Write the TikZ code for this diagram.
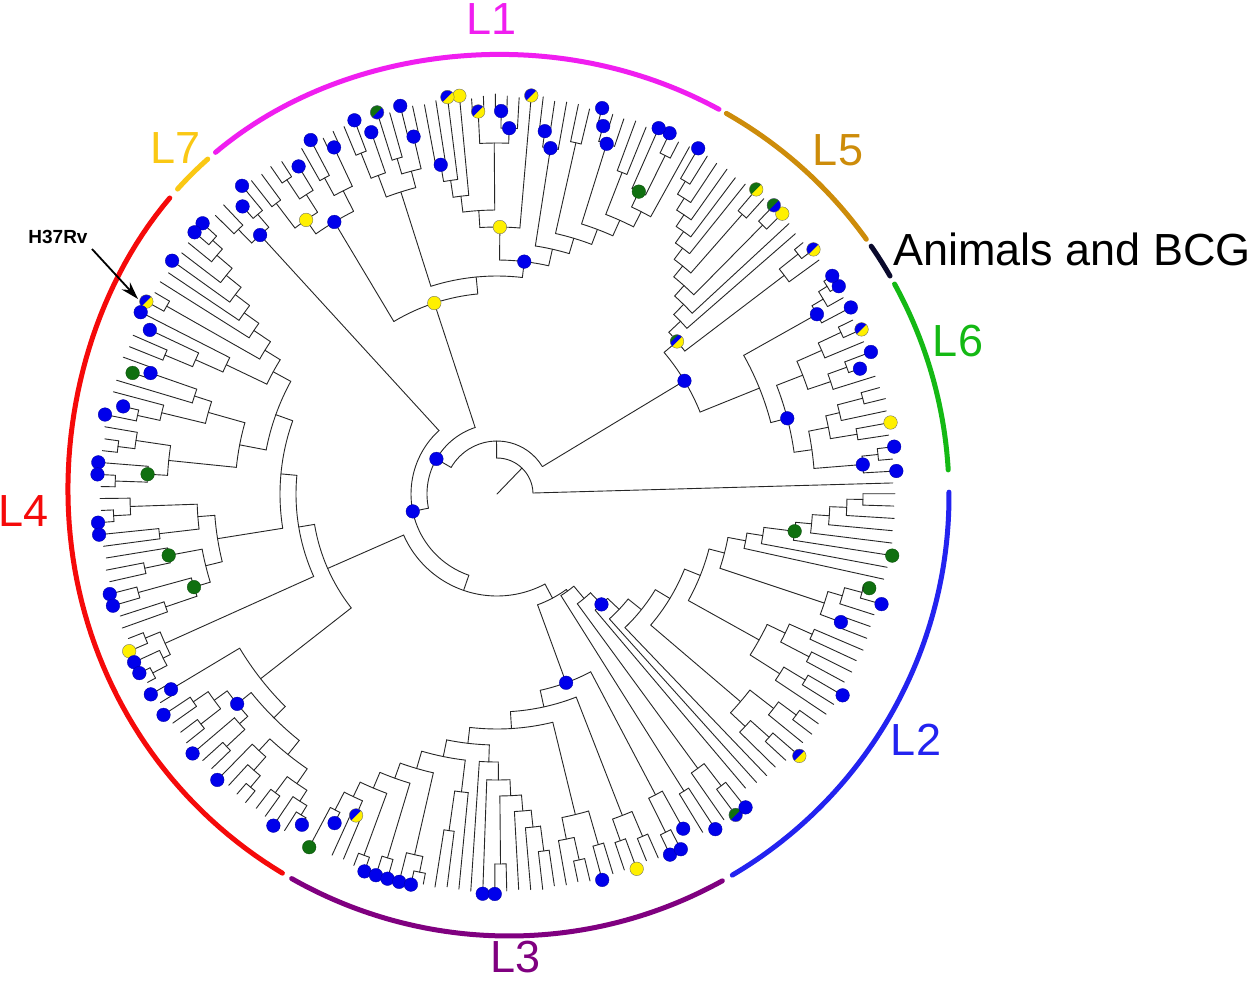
\documentclass[tikz,border=0pt]{standalone}
\usepackage{fontspec}
\setmainfont{Liberation Sans}
\usetikzlibrary{arrows.meta}

\definecolor{dotblue}{RGB}{0,0,235}
\definecolor{dotgreen}{RGB}{16,112,16}
\definecolor{dotyellow}{RGB}{255,240,0}
\definecolor{cL1}{RGB}{240,30,240}
\definecolor{cL5}{RGB}{205,140,10}
\definecolor{cAn}{RGB}{10,10,45}
\definecolor{cL6}{RGB}{20,185,20}
\definecolor{cL2}{RGB}{35,35,240}
\definecolor{cL3}{RGB}{128,0,128}
\definecolor{cL4}{RGB}{245,10,10}
\definecolor{cL7}{RGB}{250,200,20}

\tikzset{
  br/.style={line width=0.9pt, draw=black!85, line cap=round, line join=round},
  dotline/.style={draw=black!60, line width=0.35pt},
  outarc/.style={line width=5pt, line cap=round},
  biglab/.style={font=\fontsize{45}{54}\selectfont, inner sep=0pt},
  harrow/.style={-{Stealth[length=18pt,width=11pt]}, line width=1.8pt},
}

\newcommand\dR{6.8}
\newcommand\curang{0}
\newcommand\angstep{1.75}
\newcommand\pr{0}
\newcommand\retang{0}
\newcommand\setang[2]{\xdef\curang{#1}\xdef\angstep{#2}}
\newcommand\rec{\ifx\fst\relax\let\fst\retang\fi\let\lst\retang}
\newcommand\dotat[3]{\csname dotX#1\endcsname{#2}{#3}}
\newcommand\twodot[4]{%
  \begin{scope}[shift={(#3:#4)}]
    \fill[#2] (0,0) circle[radius=\dR];
    \fill[#1] (45:\dR) arc[start angle=45,end angle=225,radius=\dR] -- cycle;
    \draw[dotline] (0,0) circle[radius=\dR];
  \end{scope}}
\newcommand\dotXb[2]{\filldraw[fill=dotblue,draw=dotblue!70!black,line width=0.35pt] (#1:#2) circle[radius=\dR];}
\newcommand\dotXg[2]{\filldraw[fill=dotgreen,draw=dotgreen!70!black,line width=0.35pt] (#1:#2) circle[radius=\dR];}
\newcommand\dotXy[2]{\filldraw[fill=dotyellow,dotline] (#1:#2) circle[radius=\dR];}
\newcommand\dotXby[2]{\twodot{dotblue}{dotyellow}{#1}{#2}}
\newcommand\dotXgb[2]{\twodot{dotgreen}{dotblue}{#1}{#2}}
\newcommand\dotXgy[2]{\twodot{dotgreen}{dotyellow}{#1}{#2}}
\newcommand\dotXgby[2]{%
  \begin{scope}[shift={(#1:#2)}]
    \fill[dotyellow] (0,0) circle[radius=\dR];
    \fill[dotblue] (45:\dR) arc[start angle=45,end angle=225,radius=\dR] -- cycle;
    \fill[dotgreen] (80:\dR) arc[start angle=80,end angle=190,radius=\dR] -- cycle;
    \draw[dotline] (0,0) circle[radius=\dR];
  \end{scope}}
\newcommand\Lf[2][]{%
  \def\tmpr{#2}\ifx\tmpr\empty\def\tmpr{400}\fi
  \draw[br] (\curang:\pr) -- (\curang:\tmpr);
  \ifx\relax#1\relax\else\dotat{#1}{\curang}{\tmpr}\fi
  \global\let\retang\curang
  \pgfmathsetmacro\nxt{\curang+\angstep}\global\let\curang\nxt
  \rec}
\newcommand\Nd[3][]{%
  \begingroup
    \let\ppr\pr\def\pr{#2}\let\fst\relax\let\lst\relax
    #3%
    \pgfmathsetmacro\na{(\fst+\lst)/2}%
    \draw[br] (\na:\ppr) -- (\na:#2);
    \draw[br] (\fst:#2) arc[start angle=\fst,end angle=\lst,radius=#2];
    \ifx\relax#1\relax\else\dotat{#1}{\na}{#2}\fi
    \global\let\retang\na
  \endgroup
  \rec}
% clade arc: slightly wider towards the upper left, as in the figure
\newcommand\cladearc[3]{%
  \draw[outarc,#1] plot[domain=#2:#3, samples=70, variable=\t]
    ({509+(440+12*exp(-((\t-133)/30)^2))*cos(\t)},
     {-496+(440+12*exp(-((\t-133)/30)^2))*sin(\t)});}

\begin{document}
\begin{tikzpicture}[x=1pt,y=1pt]
\fill[white] (0,0) rectangle (1250,-980);
\useasboundingbox (0,0) rectangle (1250,-980);

\begin{scope}[shift={(497,-494)}]
\Nd{36}{%
  \setang{1.6}{1}\Lf{396}%
  \Nd{53}{%
    \Nd[b]{219}{%
      \setang{3.3}{1.75}%
      \Nd{283}{%
        \Nd[b]{300}{%
          \Nd{318}{%
            \Nd[b]{367}{\Lf[b]{}\Nd{383}{\Lf{397}\Lf[b]{}}}%
            \Nd{338}{\Nd{365}{\Lf{396}\Lf[y]{}}\Nd{352}{\Lf{398}\Nd{378}{\Lf{}\Lf{397}}}}%
          }%
          \Nd{328}{%
            \Nd{352}{\Lf{396}\Nd{372}{\Lf[b]{384}\Lf[b]{}}}%
            \Nd{355}{\Lf{397}\Nd{380}{\Lf[by]{}\Lf{396}}}%
          }%
        }%
        \Nd[b]{367}{\Lf[b]{}\Nd{380}{\Lf{398}\Nd{390}{\Lf[b]{}\Lf[b]{}}}}%
      }%
      \setang{36}{1.7}%
      \Nd[gby]{236}{%
        \Nd{361}{\Lf{398}\Nd{385}{\Lf[by]{}\Lf{396}}}%
        \Nd{252}{\Lf{396}%
          \Nd{266}{\Lf{398}%
            \Nd{280}{\Nd{378}{\Lf[y]{}\Lf[gb]{}}%
              \Nd{294}{\Nd{372}{\Lf{398}\Lf[gy]{}}%
                \Nd{308}{\Lf{397}%
                  \Nd{322}{\Lf{396}%
                    \Nd{336}{\Lf{398}%
                      \Nd{350}{\Lf{397}%
                        \Nd{365}{\Lf{398}\Lf[b]{}}%
                      }%
                    }%
                  }%
                }%
              }%
            }%
          }%
        }%
      }%
    }%
    \Nd[b]{70}{%
      \setang{61}{1.72}%
      \Nd[y]{201}{%
        \Nd{218}{%
          \Nd[b]{234}{%
            \Nd{251}{%
              \Nd{267}{%
                \Nd{283}{%
                  \Nd{300}{%
                    \Nd{317}{\Lf{397}\Nd[g]{334}{\Nd{378}{\Lf{396}\Lf[b]{}}\Lf[b]{}}}%
                    \Nd{345}{\Lf{396}\Lf{398}}%
                  }%
                  \Nd[b]{367}{\Lf{396}\Nd[b]{383}{\Lf{397}\Lf[b]{}}}%
                }%
                \Nd{360}{\Lf{396}\Lf{398}}%
              }%
              \Nd[b]{350}{\Lf{398}\Nd[b]{366}{\Lf{397}\Lf{}}}%
            }%
            \Nd[y]{267}{%
              \Lf[by]{}%
              \Nd{284}{%
                \Nd{351}{\Nd[b]{366}{\Lf{397}\Nd[b]{383}{\Lf{398}\Lf{}}}\Nd[by]{383}{\Lf{398}\Lf{396}}}%
                \Nd{300}{\Lf[y]{}\Nd{317}{\Lf[by]{}\Nd[b]{334}{\Lf{398}\Lf{396}}}}%
              }%
            }%
          }%
          \Nd{317}{%
            \Nd{334}{\Nd[b]{367}{\Lf{397}\Lf[b]{}}\Nd{350}{\Lf{396}\Lf[gb]{}}}%
            \Nd{340}{\Lf[b]{383}\Nd{367}{\Lf[b]{}\Lf{398}}}%
          }%
        }%
        \Nd[b]{317}{%
          \Nd{340}{\Nd[b]{383}{\Lf{398}\Lf{396}}\Nd{360}{\Lf[b]{}\Lf{397}}}%
          \Nd[y]{334}{\Nd{355}{\Lf[b]{383}\Nd{378}{\Lf{396}\Lf{398}}}\Nd{365}{\Lf{397}\Lf{398}}}%
        }%
      }%
      \Nd[b]{86}{%
        \setang{129.6}{1.9}%
        \Nd[b]{351}{\Nd{368}{\Lf[b]{}\Lf[b]{384}}\Nd{370}{\Lf{398}\Lf{396}}}%
        \Nd{102}{%
          \setang{137.4}{1.73}%
          \Nd{185}{%
            \Nd{201}{%
              \Nd{217}{%
                \Nd{235}{%
                  \Nd{255}{%
                    \Nd{273}{%
                      \Nd{293}{%
                        \Nd{311}{%
                          \Nd{329}{%
                            \Nd{348}{%
                              \Nd{368}{\Nd{381}{\Lf[b]{}\Lf[b]{}}\Lf{398}}%
                              \Lf{397}%
                            }%
                            \Lf[b]{}%
                          }%
                          \Lf{396}%
                        }%
                        \Lf{398}%
                      }%
                      \Nd{380}{\Lf{397}\Lf[by]{}}%
                    }%
                    \Nd{300}{\Lf[b]{}\Nd{330}{\Lf[b]{384}\Nd{360}{\Lf{397}\Lf{396}}}}%
                  }%
                  \Nd{262}{%
                    \Nd{300}{%
                      \Nd{318}{\Nd[b]{367}{\Lf{398}\Lf[g]{384}}\Lf{397}}%
                      \Nd{345}{\Lf{397}\Nd{368}{\Lf[b]{384}\Lf[b]{}}}%
                    }%
                    \Nd{330}{%
                      \Nd{365}{\Lf{398}\Nd{382}{\Lf{396}\Lf{397}}}%
                      \Nd[g]{350}{\Lf[b]{}\Nd{382}{\Lf[b]{}\Lf{396}}}%
                    }%
                  }%
                }%
                \Nd{283}{%
                  \Nd{300}{%
                    \Nd{367}{\Lf{397}\Nd{384}{\Lf{396}\Lf[b]{}}}%
                    \Nd{340}{\Lf[b]{}\Lf{397}}%
                  }%
                  \Nd{300}{%
                    \Nd[g]{334}{\Lf{396}\Nd{360}{\Lf{398}\Lf{397}}}%
                    \Nd[g]{317}{\Nd{372}{\Lf[b]{}\Lf[b]{}}\Nd{350}{\Lf{396}\Lf{398}}}%
                  }%
                }%
              }%
              \Nd{364}{\Nd{380}{\Lf{396}\Lf[y]{}}\Nd{372}{\Lf[b]{}\Nd{388}{\Lf[b]{}\Lf{397}}}}%
            }%
            \Nd{300}{%
              \Nd[b]{380}{\Lf[b]{}\Lf{396}}%
              \Nd{316}{%
                \Nd[b]{334}{%
                  \Nd{350}{\Nd{368}{\Lf[b]{}\Lf{397}}\Nd{375}{\Lf{396}\Lf{398}}}%
                  \Nd{345}{\Lf[b]{}\Nd{370}{\Lf{397}\Lf{396}}}%
                }%
                \Nd{334}{%
                  \Nd{350}{\Lf[b]{}\Nd{368}{\Lf{396}\Nd{383}{\Lf{397}\Lf{398}}}}%
                  \Nd{352}{\Nd{372}{\Lf{396}\Lf{397}}\Nd{365}{\Lf[b]{}\Nd{376}{\Lf{398}\Lf[b]{384}}}}%
                }%
              }%
            }%
          }%
          \Nd{118}{%
            \setang{242}{1.73}%
            \Nd[b]{201}{%
              \Nd{218}{%
                \Nd{235}{%
                  \Nd{251}{%
                    \Nd{268}{%
                      \Nd{286}{%
                        \Nd{302}{%
                          \Nd{319}{%
                            \Nd{335}{\Nd{355}{\Lf[g]{}\Lf[b]{367}}\Nd[by]{351}{\Lf{397}\Lf{396}}}%
                            \Nd{385}{\Lf{398}\Lf[b]{}}%
                          }%
                          \Nd{380}{\Lf[b]{}\Lf[b]{}}%
                        }%
                        \Nd{370}{\Lf[b]{}\Nd{386}{\Lf[b]{}\Lf{397}}}%
                      }%
                      \Nd{300}{\Nd{340}{\Lf{398}\Lf{396}}\Lf{397}}%
                    }%
                    \Nd{268}{%
                      \Lf{398}%
                      \Nd{286}{\Lf[b]{}\Nd{302}{\Nd{370}{\Lf[b]{}\Lf{397}}\Nd{318}{\Lf{396}\Nd{335}{\Lf{397}\Nd{360}{\Lf{398}\Lf{396}}}}}}%
                    }%
                  }%
                  \Nd{330}{\Nd{352}{\Lf{397}\Nd{375}{\Lf{396}\Lf{398}}}\Nd{365}{\Lf[b]{}\Lf{397}}}%
                }%
                \Nd{345}{\Nd{368}{\Lf{397}\Lf[y]{}}\Nd{372}{\Lf{396}\Lf{398}}}%
              }%
              \Nd{340}{\Nd{378}{\Lf[b]{}\Lf[b]{}}\Lf[b]{383}}%
            }%
            \setang{301.3}{1.78}%
            \Nd{120}{%
              \Nd{351}{\Lf{396}\Lf[b]{}}%
              \Nd{136}{%
                \Nd{340}{\Lf{397}\Nd{368}{\Lf[gb]{}\Lf[b]{}}}%
                \Nd[b]{152}{%
                  \Lf{385}%
                  \Nd{168}{%
                    \Lf{388}%
                    \Nd{185}{%
                      \Lf{390}%
                      \Nd{202}{%
                        \Nd{320}{\Nd{340}{\Lf{390}\Nd{365}{\Lf{393}\Lf[by]{}}}\Nd{350}{\Lf{394}\Nd{372}{\Lf{396}\Lf{395}}}}%
                        \Nd{219}{%
                          \Nd{300}{\Nd{335}{\Lf{396}\Nd{360}{\Lf{397}\Lf[b]{}}}\Nd{320}{\Nd{352}{\Lf{395}\Lf{397}}\Nd{345}{\Lf{396}\Lf{398}}}}%
                          \Nd{235}{%
                            \Nd{345}{\Nd[b]{367}{\Lf{397}\Lf{396}}\Nd{360}{\Lf{396}\Nd{378}{\Lf[b]{}\Lf[g]{384}}}}%
                            \Nd{253}{%
                              \Lf{396}%
                              \Nd{269}{%
                                \Lf{397}%
                                \Nd[g]{300}{\Lf[g]{}\Nd{316}{\Lf{398}\Nd{333}{\Lf{397}\Nd{350}{\Lf{398}\Nd{366}{\Lf{397}\Lf{398}}}}}}%
                              }%
                            }%
                          }%
                        }%
                      }%
                    }%
                  }%
                }%
              }%
            }%
          }%
        }%
      }%
    }%
  }%
}%
\end{scope}

% clade arcs
\cladearc{cL1}{61.5}{130.5}
\cladearc{cL5}{35.7}{60.4}
\cladearc{cAn}{30.0}{34.6}
\cladearc{cL6}{3.4}{28.8}
\cladearc{cL2}{-59.5}{0.5}
\cladearc{cL3}{-119.6}{-61}
\cladearc{cL4}{138.7}{239}
\cladearc{cL7}{131.8}{137.2}

% labels
\node[biglab,text=cL1] (tL1) at (492,-19) {L1};
\node[biglab,text=cL5] (tL5) at (838,-150) {L5};
\node[biglab,text=black,anchor=west] (tAn) at (893,-249) {Animals and BCG};
\node[biglab,text=cL6] (tL6) at (958,-341) {L6};
\node[biglab,text=cL2] (tL2) at (916,-740) {L2};
\node[biglab,text=cL3] (tL3) at (516,-957) {L3};
\node[biglab,text=cL4] (tL4) at (24,-511) {L4};
\node[biglab,text=cL7] (tL7) at (176,-148) {L7};
\node[font=\bfseries\fontsize{19}{22}\selectfont,inner sep=0pt] (h37) at (58,-237) {H37Rv};
\coordinate (h37a) at (92,-249);
\coordinate (h37b) at (138,-299);
\draw[harrow] (h37a) -- (h37b);
\end{tikzpicture}
\end{document}
